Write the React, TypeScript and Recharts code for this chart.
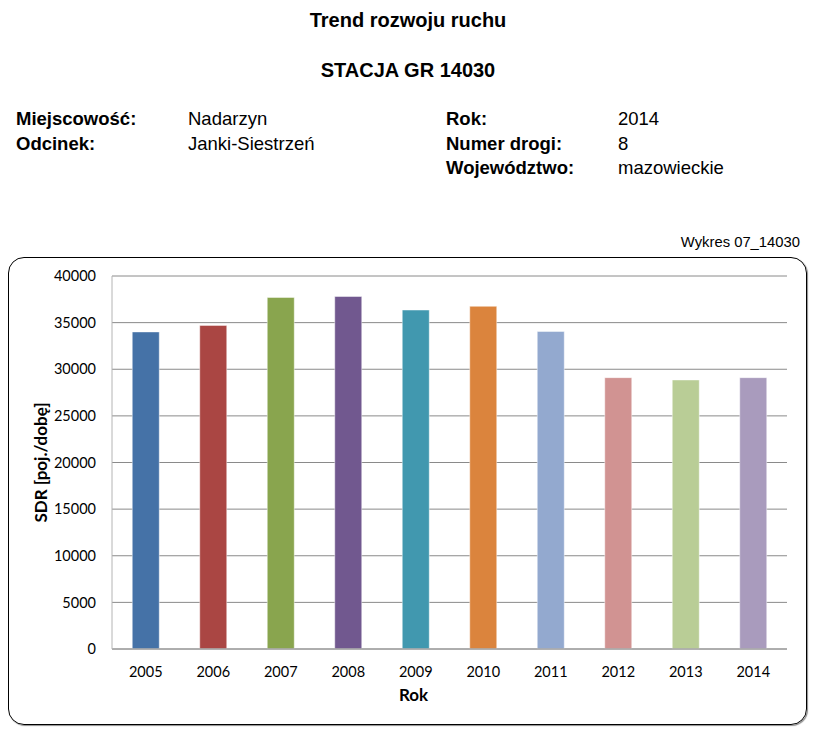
import { BarChart, Bar, XAxis, YAxis, CartesianGrid, Cell, Label } from 'recharts';

const years = ['2005', '2006', '2007', '2008', '2009', '2010', '2011', '2012', '2013', '2014'];
const sdr = [34000, 34700, 37700, 37800, 36350, 36750, 34050, 29100, 28850, 29100];
const barColors = [
  '#4572A7', '#AA4643', '#89A54E', '#71588F', '#4198AF',
  '#DB843D', '#93A9CF', '#D19392', '#B9CD96', '#A99BBD',
];
const yTicks = [0, 5000, 10000, 15000, 20000, 25000, 30000, 35000, 40000];

const data = years.map((year, i) => ({ year, sdr: sdr[i] }));

const arial = '"Liberation Sans", Arial, sans-serif';
const calibriLike = 'Lato, "Noto Sans", sans-serif';

function InfoText({ x, y, text, bold }: { x: number; y: number; text: string; bold?: boolean }) {
  return (
    <div
      style={{
        position: 'absolute',
        left: x,
        top: y,
        fontFamily: arial,
        fontSize: 18.5,
        lineHeight: '18.5px',
        fontWeight: bold ? 700 : 400,
        color: '#000',
        whiteSpace: 'nowrap',
      }}
    >
      {text}
    </div>
  );
}

export default function App() {
  return (
    <div style={{ position: 'absolute', left: 0, top: 0, width: 816, height: 731, background: '#fff' }}>
      <div style={{ position: 'absolute', left: 0, top: 9.5, width: 816, textAlign: 'center', fontFamily: arial, fontSize: 20, lineHeight: '20px', fontWeight: 700 }}>
        Trend rozwoju ruchu
      </div>
      <div style={{ position: 'absolute', left: 0, top: 60, width: 816, textAlign: 'center', fontFamily: arial, fontSize: 20, lineHeight: '20px', fontWeight: 700 }}>
        STACJA GR 14030
      </div>

      <InfoText x={16} y={110} text="Miejscowość:" bold />
      <InfoText x={188} y={110} text="Nadarzyn" />
      <InfoText x={16} y={135} text="Odcinek:" bold />
      <InfoText x={188} y={135} text="Janki-Siestrzeń" />
      <InfoText x={446} y={110} text="Rok:" bold />
      <InfoText x={618} y={110} text="2014" />
      <InfoText x={446} y={135} text="Numer drogi:" bold />
      <InfoText x={618} y={135} text="8" />
      <InfoText x={446} y={159} text="Województwo:" bold />
      <InfoText x={618} y={159} text="mazowieckie" />

      <div style={{ position: 'absolute', right: 16, top: 235, fontFamily: arial, fontSize: 14.8, lineHeight: '14.8px' }}>
        Wykres 07_14030
      </div>

      {/* chart frame */}
      <div
        style={{
          position: 'absolute',
          left: 8,
          top: 257,
          width: 797,
          height: 466,
          border: '1px solid #000',
          borderRadius: 16,
          boxShadow: '1px 1px 1px rgba(0,0,0,0.45)',
        }}
      />

      <div style={{ position: 'absolute', left: 0, top: 250 }}>
        <BarChart
          width={816}
          height={481}
          data={data}
          margin={{ top: 26, right: 29, bottom: 52, left: 0 }}
          barCategoryGap="30%"
        >
          <CartesianGrid vertical={false} stroke="#8a8a8a" strokeWidth={1} />
          <XAxis
            dataKey="year"
            height={30}
            axisLine={{ stroke: '#a6a6a6', strokeWidth: 1.5 }}
            tickLine={false}
            tickSize={0}
            tickMargin={18}
            tick={{ fill: '#000', fontSize: 14.5, fontFamily: calibriLike }}
            label={
              <Label
                content={({ viewBox }: any) => (
                  <text
                    x={viewBox.x + viewBox.width / 2 - 36}
                    y={viewBox.y + 52}
                    textAnchor="middle"
                    fontFamily={calibriLike}
                    fontWeight={700}
                    fontSize={17}
                    fill="#000"
                  >
                    Rok
                  </text>
                )}
              />
            }
          />
          <YAxis
            width={112}
            domain={[0, 40000]}
            ticks={yTicks}
            interval={0}
            axisLine={{ stroke: '#b4b4b4', strokeWidth: 1 }}
            tickLine={false}
            tickSize={0}
            tickMargin={16}
            tick={{ fill: '#000', fontSize: 14.5, fontFamily: calibriLike }}
            label={
              <Label
                content={({ viewBox }: any) => {
                  const cx = viewBox.x + 40;
                  const cy = viewBox.y + viewBox.height / 2;
                  return (
                    <text
                      x={cx}
                      y={cy}
                      transform={`rotate(-90 ${cx} ${cy})`}
                      textAnchor="middle"
                      dominantBaseline="central"
                      fontFamily={calibriLike}
                      fontWeight={700}
                      fontSize={17}
                      fill="#000"
                    >
                      SDR [poj./dobę]
                    </text>
                  );
                }}
              />
            }
          />
          <Bar dataKey="sdr" isAnimationActive={false} stroke="rgba(255,255,255,0.45)" strokeWidth={1}>
            {data.map((d, i) => (
              <Cell key={d.year} fill={barColors[i]} />
            ))}
          </Bar>
        </BarChart>
      </div>
    </div>
  );
}
